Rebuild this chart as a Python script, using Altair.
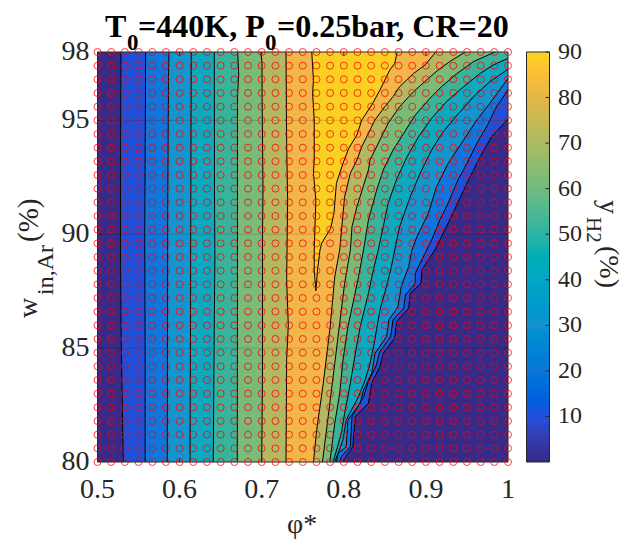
import altair as alt
import pandas as pd

FONT = "Liberation Serif"
INK = "#262626"
W, H = 410.5, 410

phi_grid = [0.5, 0.5167, 0.5333, 0.55, 0.5667, 0.5833, 0.6, 0.6167, 0.6333, 0.65, 0.6667,
            0.6833, 0.7, 0.7167, 0.7333, 0.75, 0.7667, 0.7833, 0.8, 0.8167, 0.8333,
            0.85, 0.8667, 0.8833, 0.9, 0.9167, 0.9333, 0.95, 0.9667, 0.9833, 1.0]
w_grid = [80, 80.6, 81.2, 81.8, 82.4, 83, 83.6, 84.2, 84.8, 85.4, 86, 86.6, 87.2, 87.8, 88.4, 89,
          89.6, 90.2, 90.8, 91.4, 92, 92.6, 93.2, 93.8, 94.4, 95, 95.6, 96.2, 96.8, 97.4, 98]

# contour lines, each as phi and w lists, ordered by rising w
b1_phi = [.5314, .530, .529, .528, .528, .5286]
b1_w = [80, 83, 85, 89, 93, 98]
b2_phi = [.558, .558, .5575, .5587]
b2_w = [80, 85, 90, 98]
b3_phi = [.585, .5855, .5865, .587]
b3_w = [80, 91, 97, 98]
b4_phi = [.6127, .6132, .6135, .6142]
b4_w = [80, 85, 90, 98]
b5_phi = [.641, .642, .643, .6425, .6423]
b5_w = [80, 85, 89, 92, 98]
b6_phi = [.6703, .6705, .6705, .672, .6708]
b6_w = [80, 88, 96, 97, 98]
b7_phi = [.700, .701, .701, .7016, .7005, .7004, .699]
b7_w = [80, 84, 90, 92, 96, 97.5, 98]
b8_phi = [.7296, .7304, .7324, .7304, .7316, .7304, .7296]
b8_w = [80, 84.5, 86, 88, 91.5, 94, 98]
b9_phi = [.766, .764, .764, .764, .766, .763, .764, .764, .762, .763, .761]
b9_w = [87.52, 88.43, 89.16, 89.31, 91.5, 92.68, 93.26, 95.02, 96.19, 96.77, 98]
r9_phi = [.766, .768, .771, .773, .784, .788, .791, .799, .806, .816, .822, .834, .844, .856, .862, .865]
r9_w = [87.52, 88.43, 89.31, 89.6, 90.26, 90.92, 92.24, 93.11, 93.77, 94.36, 95.02, 95.67, 96.33, 97.21, 97.5, 98]
r8_phi = [.763, .767, .775, .783, .789, .795, .801, .808, .816, .822, .830, .838, .850, .860, .868, .885, .899, .912]
r8_w = [80, 81.41, 83.46, 85.8, 88.14, 89.31, 91.65, 92.68, 93.26, 93.85, 94.43, 95.02, 95.6, 96.04, 96.48, 97.06, 97.43, 98]
r7_phi = [.774, .781, .789, .795, .801, .808, .810, .816, .830, .832, .844, .854, .868, .885, .903, .915, .929, .948]
r7_w = [80, 82, 84.33, 86.09, 87.84, 89.31, 90.33, 91.21, 92.82, 93.26, 94.14, 94.87, 95.6, 96.26, 96.84, 97.21, 97.58, 98]
r6_phi = [.783, .789, .795, .799, .805, .812, .818, .824, .830, .840, .848, .860, .873, .887, .903, .919, .938, .958, .984]
r6_w = [80, 81.7, 83.02, 84.48, 85.94, 87.11, 88.14, 89.31, 90.63, 91.94, 92.82, 93.7, 94.43, 95.23, 95.89, 96.48, 97.06, 97.58, 98]
r5_phi = [.787, .797, .801, .808, .814, .820, .830, .836, .842, .848, .854, .864, .877, .891, .907, .925, .946, .966, .982, 1.0]
r5_w = [80, 81.26, 82.14, 83.46, 84.77, 85.94, 87.41, 88.43, 89.31, 90.33, 91.36, 92.38, 93.4, 94.28, 95.09, 95.82, 96.48, 97.06, 97.43, 97.72]
r4_phi = [.789, .799, .803, .818, .826, .832, .837, .844, .852, .858, .862, .868, .881, .893, .907, .921, .938, .958, .978, 1.0]
r4_w = [80, 80.97, 81.85, 82.87, 83.6, 84.33, 85.21, 86.67, 87.7, 88.58, 89.31, 90.33, 91.65, 92.68, 93.7, 94.5, 95.23, 96.04, 96.7, 97.24]
r3_phi = [.791, .793, .803, .805, .820, .824, .834, .838, .852, .855, .866, .870, .879, .883, .889, .903, .913, .927, .946, .962, .978, 1.0]
r3_w = [80, 80.38, 80.67, 81.85, 82.58, 83.16, 83.89, 84.77, 85.5, 86.24, 86.82, 87.7, 88.58, 89.31, 89.89, 90.92, 92.09, 93.11, 94.14, 95.02, 95.75, 96.84]
r2_phi = [.795, .797, .808, .810, .824, .830, .839, .844, .857, .860, .873, .875, .887, .887, .893, .901, .907, .917, .927, .939, .950, .962, .974, .986, 1.0]
r2_w = [80, 80.24, 80.67, 82, 82.87, 83.53, 84.19, 84.85, 85.5, 86.24, 86.75, 87.33, 87.84, 88.28, 88.72, 89.31, 89.75, 90.63, 91.36, 92.38, 93.11, 93.99, 94.72, 95.6, 96.33]
r1_phi = [.799, .801, .811, .814, .830, .834, .844, .848, .862, .864, .879, .881, .894, .895, .903, .911, .925, .950, .966, .980, 1.0]
r1_w = [80, 80.16, 80.67, 82, 82.58, 83.46, 84.19, 84.77, 85.43, 86.16, 86.75, 87.41, 87.84, 88.43, 88.87, 89.31, 90.33, 92.24, 93.4, 94.28, 95.06]

band_colors = ["#2150D8", "#1076DC", "#1595CE", "#0DA9BE", "#38B49C", "#79BB78", "#B3B862", "#F3B64A",
               "#FAD122", "#F3B64A", "#B3B862", "#79BB78", "#38B49C", "#0DA9BE", "#1595CE", "#1076DC",
               "#2150D8", "#3A2A87"]
base_color = "#3A2A87"
contours = [(b1_phi, b1_w), (b2_phi, b2_w), (b3_phi, b3_w), (b4_phi, b4_w), (b5_phi, b5_w), (b6_phi, b6_w),
            (b7_phi, b7_w), (b8_phi, b8_w), (b9_phi, b9_w), (r9_phi, r9_w), (r8_phi, r8_w), (r7_phi, r7_w),
            (r6_phi, r6_w), (r5_phi, r5_w), (r4_phi, r4_w), (r3_phi, r3_w), (r2_phi, r2_w), (r1_phi, r1_w)]

cbar_stops = [0, 10, 20, 30, 40, 50, 60, 70, 80, 85, 90]
cbar_colors = ["#352A87", "#1B52DC", "#1177D8", "#1592CF", "#09A7C3", "#2DB4A4", "#73BA7F", "#AEBA62",
               "#E6B548", "#FDBE36", "#FBD61E"]
cbar_ticks = [10, 20, 30, 40, 50, 60, 70, 80, 90]
x_ticks = [0.5, 0.6, 0.7, 0.8, 0.9, 1.0]
x_tick_text = ["0.5", "0.6", "0.7", "0.8", "0.9", "1"]
y_ticks = [80, 85, 90, 95, 98]
y_tick_text = ["80", "85", "90", "95", "98"]

xs = alt.Scale(domain=[0.5, 1.0], nice=False, zero=False)
ys = alt.Scale(domain=[80, 98], nice=False, zero=False)
cs = alt.Scale(domain=[0, 90], nice=False, zero=False)
one = pd.DataFrame({"a": [0]})


def X():
    return alt.X("phi:Q", scale=xs, axis=None, title=None)


def Y():
    return alt.Y("w:Q", scale=ys, axis=None, title=None)


layers = []
base = pd.DataFrame({"phi": [0.5, 0.5], "w": [80, 98], "end": [1.0, 1.0]})
layers.append(alt.Chart(base).mark_area(color=base_color, orient="horizontal").encode(
    x=X(), x2=alt.X2("end:Q"), y=Y()))
for (p, w_), col in zip(contours, band_colors):
    df = pd.DataFrame({"phi": p, "w": w_, "end": [1.0] * len(p)})
    layers.append(alt.Chart(df).mark_area(color=col, orient="horizontal").encode(
        x=X(), x2=alt.X2("end:Q"), y=Y()))

# faint horizontal grid traces at the y ticks
layers.append(alt.Chart(pd.DataFrame({"w": [85, 90, 95]})).mark_rule(color="#000000", opacity=0.15, strokeWidth=1).encode(
    y=Y(), x=alt.value(0), x2=alt.value(W)))

for p, w_ in contours:
    df = pd.DataFrame({"phi": p, "w": w_, "i": list(range(len(p)))})
    layers.append(alt.Chart(df).mark_line(color="#000000", strokeWidth=1).encode(
        x=X(), y=Y(), order=alt.Order("i:Q")))

# frame and inward ticks
layers.append(alt.Chart(one).mark_rect(fillOpacity=0, stroke=INK, strokeWidth=1).encode(
    x=alt.value(0), x2=alt.value(W), y=alt.value(0), y2=alt.value(H)))
xt = pd.DataFrame({"phi": x_ticks[1:-1]})
yt = pd.DataFrame({"w": y_ticks[1:-1]})
for a, b in [(H, H - 4), (0, 4)]:
    layers.append(alt.Chart(xt).mark_rule(color=INK, strokeWidth=1).encode(x=X(), y=alt.value(a), y2=alt.value(b)))
for a, b in [(0, 4), (W, W - 4)]:
    layers.append(alt.Chart(yt).mark_rule(color=INK, strokeWidth=1).encode(y=Y(), x=alt.value(a), x2=alt.value(b)))

# measurement grid
grid = pd.DataFrame([{"phi": p, "w": v} for p in phi_grid for v in w_grid])
layers.append(alt.Chart(grid).mark_point(shape="circle", filled=False, color="#FF0000", size=49, strokeWidth=0.8, opacity=0.95).encode(
    x=X(), y=Y()))

# tick labels
layers.append(alt.Chart(pd.DataFrame({"phi": x_ticks, "s": x_tick_text})).mark_text(
    font=FONT, fontSize=28, color=INK, align="center", baseline="alphabetic").encode(
    x=X(), y=alt.value(498 - 52), text="s:N"))
layers.append(alt.Chart(pd.DataFrame({"w": y_ticks, "s": y_tick_text})).mark_text(
    font=FONT, fontSize=28, color=INK, align="right", baseline="middle").encode(
    y=Y(), x=alt.value(-8), text="s:N"))


def txt(s, x, y, size=28, bold=False, angle=0, align="left"):
    return alt.Chart(one).mark_text(text=s, font=FONT, fontSize=size, fontWeight="bold" if bold else "normal",
                                    color="#000000" if bold else INK, angle=angle, align=align,
                                    baseline="alphabetic").encode(x=alt.value(x - 97.5), y=alt.value(y - 52))


layers += [
    txt("T", 105, 36.5, 32, True),
    txt("0", 127, 50, 23, True),
    txt("=440K, P", 138, 36.5, 32, True),
    txt("0", 265, 50, 23, True),
    txt("=0.25bar, CR=20", 277, 36.5, 32, True),
    txt("φ*", 287, 533, 28),
    txt("w", 37, 318, 28, angle=270),
    txt("in,Ar", 52.5, 295, 24, angle=270),
    txt("(%)", 38, 242, 29, angle=270),
    txt("y", 600, 200, 28, angle=90),
    txt("H2", 587, 217, 21, angle=90),
    txt("(%)", 599.5, 246, 28, angle=90),
]
main = alt.layer(*layers)

# colour bar
cb_x0, cb_x1 = 526.5 - 97.5, 549.5 - 97.5
cb_vals = [i * 0.5 for i in range(180)]
cb = pd.DataFrame({"v": cb_vals, "v2": [min(v + 1.0, 90) for v in cb_vals]})
cb_rect = alt.Chart(cb).mark_rect(stroke=None).encode(
    y=alt.Y("v:Q", scale=cs, axis=None, title=None), y2=alt.Y2("v2:Q"),
    x=alt.value(cb_x0), x2=alt.value(cb_x1),
    color=alt.Color("v:Q", scale=alt.Scale(domain=cbar_stops, range=cbar_colors), legend=None))
cb_frame = alt.Chart(one).mark_rect(fillOpacity=0, stroke=INK, strokeWidth=1).encode(
    x=alt.value(cb_x0), x2=alt.value(cb_x1), y=alt.value(0), y2=alt.value(H))
ct = pd.DataFrame({"v": cbar_ticks, "s": [str(t) for t in cbar_ticks]})
cb_ticks = alt.Chart(ct).mark_rule(color=INK, strokeWidth=1).encode(
    y=alt.Y("v:Q", scale=cs, axis=None, title=None), x=alt.value(cb_x1 - 4), x2=alt.value(cb_x1))
cb_text = alt.Chart(ct).mark_text(font=FONT, fontSize=24, color=INK, align="left", baseline="middle").encode(
    y=alt.Y("v:Q", scale=cs, axis=None, title=None), x=alt.value(558 - 97.5), text="s:N")
cbar = alt.layer(cb_rect, cb_frame, cb_ticks, cb_text)

chart = alt.layer(main, cbar).resolve_scale(y="independent", color="independent").properties(
    width=W, height=H, autosize="none",
    padding={"left": 89.5, "top": 44, "right": 117, "bottom": 81},
    background="white",
).configure_view(stroke=None)

chart.save("out.html", embed_options={"renderer": "svg", "actions": False})
